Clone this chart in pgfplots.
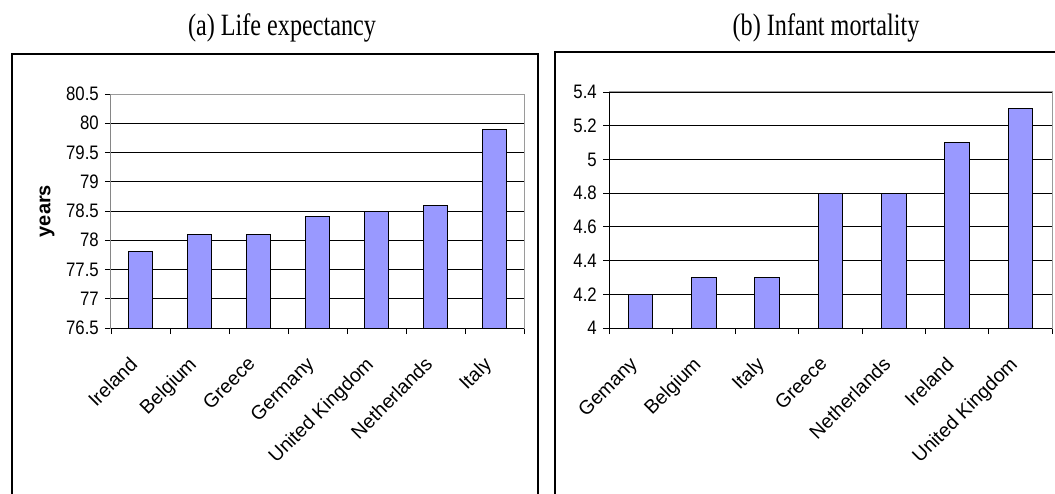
\documentclass[border=0pt]{standalone}
\usepackage{fontspec}
\setmainfont{Liberation Sans}[FakeStretch=0.86]
\newfontfamily\titlefont{Liberation Serif}[FakeStretch=0.78]
\newfontfamily\labelfont{Liberation Sans}
\usepackage{pgfplots}
\pgfplotsset{compat=1.18}
\definecolor{barfill}{HTML}{9999FF}
\definecolor{plotborder}{HTML}{9A9A9A}

\pgfplotsset{
  excelbars/.style={
    scale only axis,
    xmin=-0.5, xmax=6.5,
    axis line style={plotborder, line width=1pt},
    tick align=outside,
    major tick length=6pt,
    tick style={black, line width=0.8pt},
    xtick pos=bottom, ytick pos=left,
    xtick={-0.5,0.5,...,6.5},
    xticklabels={},
    ymajorgrids,
    grid style={black, line width=0.8pt},
    /pgf/number format/assume math mode=true,
    yticklabel style={font=\fontsize{19.5}{21}\selectfont, inner sep=2pt, xshift=-4pt},
    extra x tick style={major tick length=0pt, grid=none,
      xticklabel style={yshift=-26pt, xshift=-12pt, rotate=45, anchor=north east,
        inner sep=1pt, font=\labelfont\fontsize{19.5}{21}\selectfont}},
  },
}

\begin{document}
\begin{tikzpicture}
\useasboundingbox (0pt,0pt) rectangle (1055pt,493pt);

% outer frames of the two panels
\draw[line width=2pt] (12pt,-20pt) -- (12pt,439pt) -- (538pt,439pt) -- (538pt,-20pt);
\draw[line width=2pt] (555pt,-20pt) -- (555pt,441pt) -- (1080pt,441pt);

% panel titles
\node[font=\titlefont\fontsize{31}{34}\selectfont, anchor=base] at (282pt,457pt) {(a) Life expectancy};
\node[font=\titlefont\fontsize{31}{34}\selectfont, anchor=base] at (826pt,457pt) {(b) Infant mortality};

% (a) life expectancy
\begin{axis}[excelbars,
  at={(111pt,165pt)}, anchor=south west,
  width=413pt, height=234pt,
  ymin=76.5, ymax=80.5, ytick={76.5,77,...,80.5},
  extra x ticks={0,1,2,3,4,5,6},
  extra x tick labels={Ireland,Belgium,Greece,Germany,United Kingdom,Netherlands,Italy},
  ylabel={years},
  ylabel style={at={(axis description cs:-0.155,0.5)}, anchor=center,
    font=\labelfont\bfseries\fontsize{20}{22}\selectfont},
]
\addplot[ybar, bar width=0.4, fill=barfill, draw=black, line width=1pt]
  coordinates {(0,77.8) (1,78.1) (2,78.1) (3,78.4) (4,78.5) (5,78.6) (6,79.9)};
\draw[plotborder, line width=1pt] (rel axis cs:0,1) -- (rel axis cs:1,1) -- (rel axis cs:1,0);
\draw[black, line width=1pt] (rel axis cs:0,1) -- (rel axis cs:0,0) -- (rel axis cs:1,0);
\end{axis}

% (b) infant mortality
\begin{axis}[excelbars,
  at={(609pt,165pt)}, anchor=south west,
  width=443pt, height=236pt,
  ymin=4, ymax=5.4, ytick={4,4.2,...,5.41},
  extra x ticks={0,1,2,3,4,5,6},
  extra x tick labels={Gemany,Belgium,Italy,Greece,Netherlands,Ireland,United Kingdom},
]
\addplot[ybar, bar width=0.39, fill=barfill, draw=black, line width=1pt]
  coordinates {(0,4.2) (1,4.3) (2,4.3) (3,4.8) (4,4.8) (5,5.1) (6,5.3)};
\draw[plotborder, line width=1pt] (rel axis cs:0,1) -- (rel axis cs:1,1) -- (rel axis cs:1,0);
\draw[black, line width=1pt] (rel axis cs:0,1) -- (rel axis cs:0,0) -- (rel axis cs:1,0);
\end{axis}
\end{tikzpicture}
\end{document}
